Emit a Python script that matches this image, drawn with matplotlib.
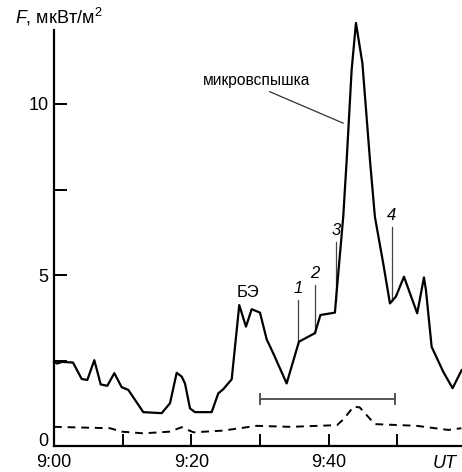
import numpy as np
import matplotlib
matplotlib.use("Agg")
import matplotlib.pyplot as plt
import matplotlib.transforms as mtransforms

plt.rcParams['font.family'] = ['Liberation Sans', 'DejaVu Sans']
plt.rcParams['mathtext.fontset'] = 'custom'
plt.rcParams['mathtext.rm'] = 'Liberation Sans'
plt.rcParams['mathtext.it'] = 'Liberation Sans:italic'

# время в минутах от 9:00, поток F (мкВт/м^2)
t_flux = [0.0, 0.44, 1.16, 2.77, 4.03, 4.85, 5.87, 6.80, 7.76, 8.78, 9.85, 10.82,
          13.0, 15.68, 16.89, 17.86, 18.59, 19.07, 19.80, 20.52, 22.95, 23.92,
          24.64, 25.87, 26.97, 27.95, 28.78, 29.99, 30.96, 31.92, 33.87, 35.66,
          37.99, 38.79, 40.90, 41.15, 42.11, 42.61, 43.33, 43.96, 44.90, 46.0,
          46.72, 47.93, 48.91, 49.78, 50.95, 52.88, 53.86, 54.15, 54.98, 56.67,
          58.03, 59.35]
flux = [2.46, 2.41, 2.46, 2.44, 1.96, 1.93, 2.51, 1.80, 1.76, 2.13, 1.72, 1.64,
        0.99, 0.96, 1.25, 2.14, 2.03, 1.83, 1.10, 0.99, 0.99, 1.54,
        1.66, 1.95, 4.12, 3.49, 4.00, 3.90, 3.12, 2.71, 1.83, 3.05,
        3.30, 3.83, 3.90, 4.51, 6.70, 8.36, 10.99, 12.37, 11.19, 8.36,
        6.70, 5.34, 4.17, 4.37, 4.95, 3.88, 4.93, 4.56, 2.90, 2.17,
        1.69, 2.22]

# фон (пунктир)
t_bg = [0.0, 8.15, 9.85, 13.0, 16.9, 18.6, 20.3, 24.6, 29.5, 34.4, 41.2, 42.2,
        43.6, 44.5, 46.7, 52.8, 57.4, 59.3]
bg = [0.56, 0.52, 0.42, 0.37, 0.42, 0.55, 0.40, 0.45, 0.59, 0.56, 0.61, 0.79,
      1.15, 1.13, 0.64, 0.59, 0.47, 0.52]

# отметки 1-4
mark_labels = ['1', '2', '3', '4']
mark_t = [35.56, 37.99, 41.04, 49.15]
mark_top = [4.27, 4.71, 5.97, 6.41]

interval = [30.0, 49.6]   # горизонтальный отрезок
interval_y = 1.37

fig = plt.figure(figsize=(4.62, 4.72), dpi=100)
ax = fig.add_axes([54/462, 26/472, 408/462, 12.6*34.2/472])

ax.plot(t_flux, flux, color='black', lw=1.6, clip_on=False, zorder=3)
ax.plot(t_bg, bg, color='black', lw=1.4, dashes=(4, 3), clip_on=False)

for lab, tm, top in zip(mark_labels, mark_t, mark_top):
    bottom = np.interp(tm, t_flux, flux)
    ax.plot([tm, tm], [bottom, top], color='#444444', lw=0.9)
    ax.text(tm, top + 0.12, lab, fontsize=12, style='italic',
            ha='center', va='bottom')

ax.text(28.3, 4.5, 'БЭ', fontsize=12, ha='center', va='center')
ax.text(29.5, 10.7, 'микровспышка', fontsize=11.2, ha='center', va='center')
ax.plot([31.4, 42.1], [10.36, 9.44], color='#333333', lw=0.9)

ax.plot(interval, [interval_y, interval_y], color='#555555', lw=1.4)
ax.plot(interval, [interval_y, interval_y], '|', color='#555555', ms=8, mew=1.4)

ax.set_xlim(0, 59.4)
ax.set_ylim(0, 12.6)
for s in ['top', 'right']:
    ax.spines[s].set_visible(False)
ax.spines['left'].set_bounds(0, 12.15)
ax.spines['left'].set_linewidth(1.6)
ax.spines['bottom'].set_linewidth(1.6)

ax.set_yticks([0, 2.5, 5, 7.5, 10])
ax.set_yticklabels(['0', '', '5', '', '10'])
ax.set_xticks([0, 10, 20, 30, 40, 50])
ax.set_xticklabels(['9:00', '', '9:20', '', '9:40', ''])
ax.tick_params(direction='in', length=9, width=1.4, labelsize=13)
ax.tick_params(axis='x', pad=6)
ax.tick_params(axis='y', pad=4)

# "0" чуть выше, чтобы не налезал на 9:00
lab0 = ax.get_yticklabels()[0]
lab0.set_transform(lab0.get_transform() +
                   mtransforms.ScaledTranslation(0, 0.06, fig.dpi_scale_trans))

ax.text(55.2, -0.27, 'UT', fontsize=13, style='italic', ha='left', va='top',
        clip_on=False)
fig.text(15/462, 1 - 17/472, '$F$, мкВт/м$^2$', fontsize=13, ha='left',
         va='center')

fig.savefig('out.png', dpi=100)
